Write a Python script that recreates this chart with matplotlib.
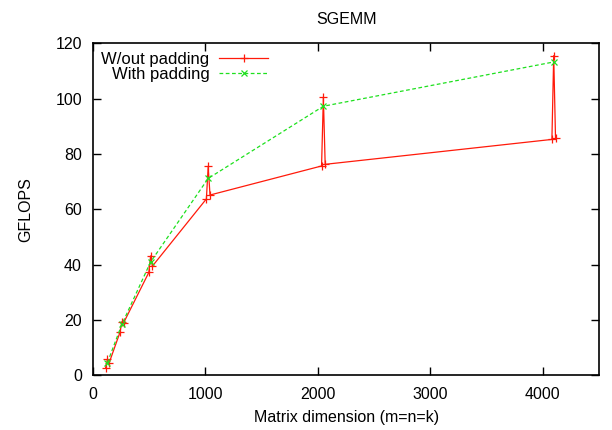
import matplotlib
matplotlib.use("Agg")
from matplotlib import pyplot as plt

plt.rcParams["font.family"] = ["Liberation Sans", "DejaVu Sans"]
plt.rcParams["font.size"] = 11.5

# matrix sizes (n-16, n, n+16 around powers of two) without padding
sizes = [112, 128, 144, 240, 256, 272, 496, 512, 528,
         1008, 1024, 1040, 2032, 2048, 2064, 4080, 4096, 4112]
no_pad = [2.8, 5.8, 4.6, 15.6, 19.4, 19.0, 37.2, 43.2, 39.5,
          63.8, 75.6, 65.2, 75.7, 100.6, 76.3, 85.3, 115.6, 85.9]

# padded runs, powers of two only
pad_sizes = [128, 256, 512, 1024, 2048, 4096]
with_pad = [4.6, 18.4, 41.0, 71.2, 97.3, 113.3]

fig = plt.figure(figsize=(6.12, 4.30), dpi=100)
ax = fig.add_axes([0.152, 0.127, 0.827, 0.772])

ax.plot(sizes, no_pad, color="#ff1a0a", lw=0.9, marker="+", ms=5.5, mew=0.9,
        label="W/out padding")
ax.plot(pad_sizes, with_pad, color="#1ee01e", lw=0.9, ls=(0, (3, 2)), marker="x",
        ms=3.8, mew=0.9, label="With padding")

ax.set_xlim(0, 4500)
ax.set_ylim(0, 120)
ax.set_xticks([0, 1000, 2000, 3000, 4000])
ax.set_yticks([0, 20, 40, 60, 80, 100, 120])
ax.tick_params(direction="in", length=6, width=1, top=True, right=True, pad=8)
for s in ax.spines.values():
    s.set_linewidth(1.2)

ax.set_title("SGEMM", fontsize=11.5, pad=14)
ax.set_xlabel("Matrix dimension (m=n=k)", labelpad=6)
ax.set_ylabel("GFLOPS", labelpad=16)

# markerfirst=False right-aligns the entries, like gnuplot's key
leg = ax.legend(loc="upper left", frameon=False, markerfirst=False,
                handlelength=2.9, handletextpad=0.6, labelspacing=0.0,
                borderaxespad=0.1, fontsize=12, bbox_to_anchor=(0.0, 1.0))

plt.savefig("out.png", dpi=100)
